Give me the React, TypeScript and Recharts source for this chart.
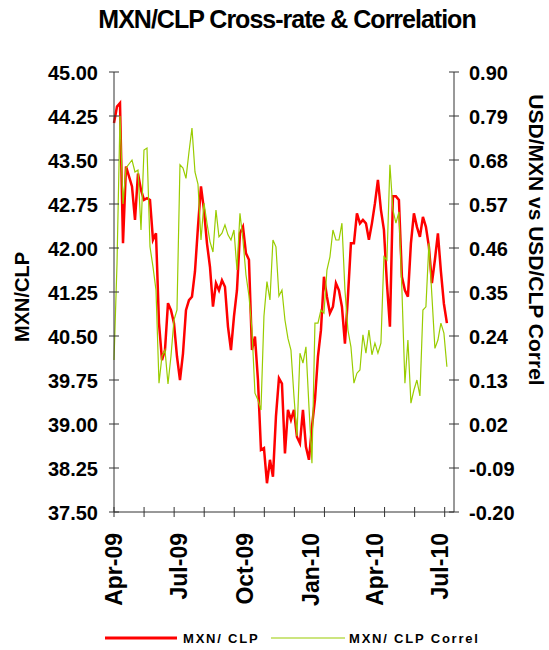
import React from "react";
import { LineChart, Line, XAxis, YAxis } from "recharts";

// readings are spaced ~4.19 days apart, starting 1-Apr-2009
const SAMPLE_DAYS = 4.19;

const mxnClp = [
  44.13, 44.41, 44.47, 42.08, 43.39, 43.22, 43.05, 42.48, 43.27, 42.99,
  42.82, 42.85, 42.82, 42.14, 42.25, 40.72, 40.09, 40.26, 41.06, 40.94,
  40.72, 40.15, 39.75, 40.2, 40.94, 41.11, 41.17, 41.6, 42.36, 43.05,
  42.65, 42.08, 41.68, 41.0, 41.4, 41.28, 41.45, 41.34, 40.66, 40.26,
  40.83, 41.28, 42.25, 42.36, 41.91, 41.8, 40.26, 40.49, 39.75, 38.56,
  38.59, 37.99, 38.39, 38.1, 39.13, 39.78, 39.69, 38.5, 39.24, 39.07,
  39.24, 38.78, 38.67, 39.24, 38.61, 38.39, 38.95, 39.41, 40.15, 40.6,
  41.51, 41.17, 40.89, 41.0, 41.4, 41.28, 41.0, 40.37, 41.17, 42.08,
  42.08, 42.59, 42.42, 42.48, 42.42, 42.14, 42.42, 42.76, 43.16, 42.65,
  42.31, 41.4, 40.66, 42.88, 42.88, 42.82, 41.51, 41.28, 41.17, 42.08,
  42.59, 42.36, 42.19, 42.53, 42.36, 42.02, 41.4, 41.8, 42.25, 41.6,
  41.05, 40.72,
];

const mxnClpCorrel = [
  0.18, 0.42, 0.79, 0.57, 0.66, 0.67, 0.68, 0.65, 0.655, 0.505,
  0.705, 0.71, 0.463, 0.413, 0.355, 0.122, 0.19, 0.205, 0.12, 0.19,
  0.28, 0.305, 0.668, 0.66, 0.634, 0.7, 0.76, 0.65, 0.62, 0.48,
  0.572, 0.522, 0.476, 0.45, 0.555, 0.488, 0.497, 0.518, 0.493, 0.48,
  0.505, 0.405, 0.547, 0.48, 0.393, 0.34, 0.255, 0.097, 0.08, 0.055,
  0.29, 0.376, 0.33, 0.48, 0.463, 0.34, 0.355, 0.28, 0.234, 0.205,
  0.09, -0.01, 0.197, 0.172, 0.213, 0.064, -0.078, 0.272, 0.272, 0.305,
  0.297, 0.405, 0.438, 0.505, 0.48, 0.48, 0.522, 0.355, 0.255, 0.213,
  0.122, 0.147, 0.155, 0.243, 0.197, 0.255, 0.193, 0.222, 0.197, 0.222,
  0.438, 0.43, 0.668, 0.555, 0.522, 0.55, 0.355, 0.122, 0.23, 0.072,
  0.105, 0.13, 0.09, 0.305, 0.313, 0.472, 0.34, 0.209, 0.23, 0.272,
  0.247, 0.163,
];

const rateTicks = [37.5, 38.25, 39, 39.75, 40.5, 41.25, 42, 42.75, 43.5, 44.25, 45];
const correlTicks = [-0.2, -0.09, 0.02, 0.13, 0.24, 0.35, 0.46, 0.57, 0.68, 0.79, 0.9];
const monthDays = [0, 91, 183, 275, 365, 456];
const monthLabels = ["Apr-09", "Jul-09", "Oct-09", "Jan-10", "Apr-10", "Jul-10"];
const minorTickDays = [0, 42, 84, 126, 168, 210, 252, 294, 336, 378, 420, 462];

const RED = "#ff0000";
const GREEN = "#99cc00";
const AXIS = "#333333";
const FONT = "'Liberation Sans', Arial, sans-serif";

const data = mxnClp.map((v, i) => ({
  day: i * SAMPLE_DAYS,
  rate: v,
  correl: mxnClpCorrel[i],
}));

const xTicks = Array.from(new Set([...minorTickDays, ...monthDays])).sort((a, b) => a - b);

function LeftTick({ x, y, payload }: any) {
  return (
    <g>
      <line x1={x - 5} x2={x + 5} y1={y} y2={y} stroke={AXIS} />
      <text x={x - 16} y={y + 1} textAnchor="end" dominantBaseline="central"
        fontSize={20} fontWeight="bold" fontFamily={FONT} fill="#000">
        {Number(payload.value).toFixed(2)}
      </text>
    </g>
  );
}

function RightTick({ x, y, payload }: any) {
  return (
    <g>
      <line x1={x - 5} x2={x + 5} y1={y} y2={y} stroke={AXIS} />
      <text x={x + 15} y={y + 1} textAnchor="start" dominantBaseline="central"
        fontSize={20} fontWeight="bold" fontFamily={FONT} fill="#000">
        {Number(payload.value).toFixed(2)}
      </text>
    </g>
  );
}

function MonthTick({ x, y, payload }: any) {
  const v = payload.value;
  const idx = monthDays.indexOf(v);
  const ly = y + 21;
  return (
    <g>
      {minorTickDays.includes(v) && (
        <line x1={x} x2={x} y1={y - 5} y2={y + 5} stroke={AXIS} />
      )}
      {idx >= 0 && (
        <text x={x} y={ly} transform={`rotate(-90 ${x} ${ly})`} textAnchor="end"
          dominantBaseline="central" fontSize={23} fontWeight="bold" fontFamily={FONT} fill="#000">
          {monthLabels[idx]}
        </text>
      )}
    </g>
  );
}

export default function App() {
  return (
    <div style={{ position: "absolute", left: 0, top: 0, width: 549, height: 650, background: "#fff" }}>
      <LineChart width={549} height={650} data={data}
        margin={{ top: 72, right: 0, bottom: 0, left: 0 }}>
        <XAxis dataKey="day" type="number" domain={[0, 475]} ticks={xTicks} interval={0}
          height={138} tickSize={0} tickMargin={0} tick={<MonthTick />}
          axisLine={{ stroke: AXIS }} tickLine={false} />
        <YAxis yAxisId="left" orientation="left" domain={[37.5, 45]} ticks={rateTicks}
          interval={0} width={114} tickSize={0} tickMargin={0} tick={<LeftTick />}
          axisLine={{ stroke: AXIS }} tickLine={false} allowDataOverflow />
        <YAxis yAxisId="right" orientation="right" domain={[-0.2, 0.9]} ticks={correlTicks}
          interval={0} width={95} tickSize={0} tickMargin={0} tick={<RightTick />}
          axisLine={{ stroke: AXIS }} tickLine={false} allowDataOverflow />
        <Line yAxisId="left" dataKey="rate" name="MXN/ CLP" type="linear" stroke={RED}
          strokeWidth={2.5} dot={false} isAnimationActive={false} />
        <Line yAxisId="right" dataKey="correl" name="MXN/ CLP Correl" type="linear" stroke={GREEN}
          strokeWidth={1.2} dot={false} isAnimationActive={false} />
      </LineChart>
      <svg width={549} height={650} style={{ position: "absolute", left: 0, top: 0, pointerEvents: "none" }}>
        <text x={287} y={28} textAnchor="middle" fontSize={25} fontWeight="bold"
          letterSpacing={-1} fontFamily={FONT} fill="#000">
          MXN/CLP Cross-rate &amp; Correlation
        </text>
        <text x={22} y={297} transform="rotate(-90 22 297)" textAnchor="middle"
          dominantBaseline="central" fontSize={20} fontWeight="bold" fontFamily={FONT} fill="#000">
          MXN/CLP
        </text>
        <text x={536} y={240} transform="rotate(90 536 240)" textAnchor="middle"
          dominantBaseline="central" fontSize={21} fontWeight="bold" fontFamily={FONT} fill="#000">
          USD/MXN vs USD/CLP Correl
        </text>
        <line x1={105} x2={177} y1={638} y2={638} stroke={RED} strokeWidth={3} />
        <text x={183} y={643} fontSize={13} fontWeight="bold" letterSpacing={1.8}
          fontFamily={FONT} fill="#000">MXN/ CLP</text>
        <line x1={271} x2={345} y1={638} y2={638} stroke={GREEN} strokeWidth={1.2} />
        <text x={349} y={643} fontSize={13} fontWeight="bold" letterSpacing={1.8}
          fontFamily={FONT} fill="#000">MXN/ CLP Correl</text>
      </svg>
    </div>
  );
}
